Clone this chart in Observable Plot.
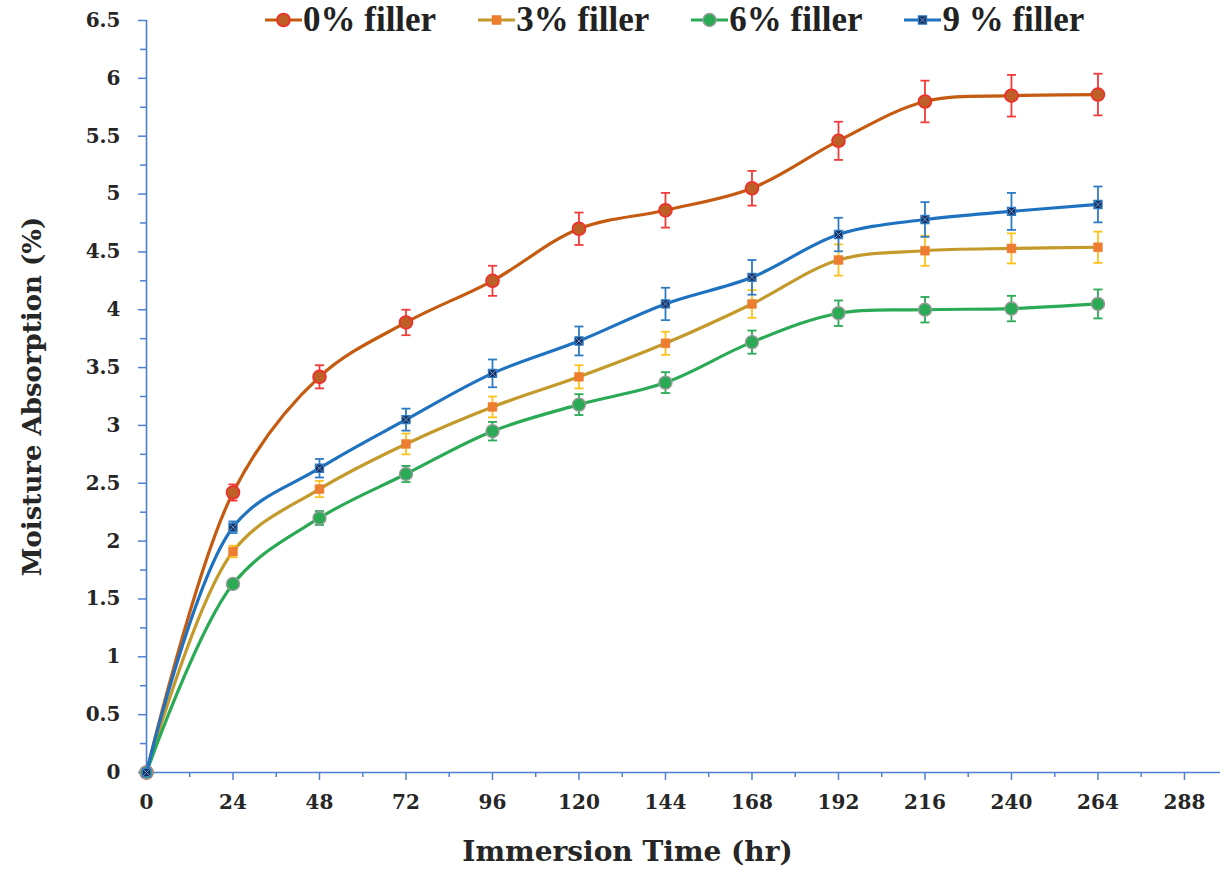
<!DOCTYPE html>
<html>
<head>
<meta charset="utf-8">
<script src="https://cdn.jsdelivr.net/npm/d3@7"></script>
<script src="https://cdn.jsdelivr.net/npm/@observablehq/plot@0.6"></script>
<style>
  html, body { margin: 0; padding: 0; background: #fff; }
  #wrap { position: relative; width: 1223px; height: 871px; }
  #legend { position: absolute; top: 0; left: 265px; display: flex; align-items: center; height: 40px; white-space: nowrap; }
  .item { display: inline-flex; align-items: center; margin-right: 42px; }
  .item span { font-family: "Liberation Serif", serif; font-weight: bold; font-size: 35px; color: #222; line-height: 40px; margin-left: 1px; }
</style>
</head>
<body>
<div id="wrap"><div id="legend"></div></div>
<script>
// ---- data ----
const hours = [0, 24, 48, 72, 96, 120, 144, 168, 192, 216, 240, 264];
const seriesNames = ["0% filler", "3% filler", "6% filler", "9 % filler"];
const filler0 = [0, 2.42, 3.42, 3.89, 4.25, 4.70, 4.86, 5.05, 5.46, 5.80, 5.85, 5.86];
const err0    = [0, 0.07, 0.10, 0.11, 0.13, 0.14, 0.15, 0.15, 0.165, 0.18, 0.18, 0.18];
const filler3 = [0, 1.91, 2.45, 2.84, 3.16, 3.42, 3.71, 4.05, 4.43, 4.51, 4.53, 4.54];
const err3    = [0, 0.05, 0.07, 0.09, 0.09, 0.10, 0.10, 0.12, 0.135, 0.13, 0.13, 0.135];
const filler6 = [0, 1.63, 2.20, 2.58, 2.95, 3.18, 3.37, 3.72, 3.97, 4.00, 4.01, 4.05];
const err6    = [0, 0.03, 0.06, 0.07, 0.08, 0.09, 0.09, 0.10, 0.11, 0.11, 0.11, 0.125];
const filler9 = [0, 2.12, 2.63, 3.05, 3.45, 3.73, 4.05, 4.28, 4.65, 4.78, 4.85, 4.91];
const err9    = [0, 0.05, 0.08, 0.095, 0.12, 0.125, 0.14, 0.15, 0.145, 0.15, 0.16, 0.155];
const xMajorTicks = [0, 24, 48, 72, 96, 120, 144, 168, 192, 216, 240, 264, 288];
const xMinorTicks = [12, 36, 60, 84, 108, 132, 156, 180, 204, 228, 252, 276];
const yMajorTicks = [0, 0.5, 1, 1.5, 2, 2.5, 3, 3.5, 4, 4.5, 5, 5.5, 6, 6.5];
const yMinorTicks = [0.25, 0.75, 1.25, 1.75, 2.25, 2.75, 3.25, 3.75, 4.25, 4.75, 5.25, 5.75, 6.25];

// ---- styles ----
const axisColor = "#4F7FD3";
const styles = [
  {line: "#C55A11", err: "#F23A3A", symbol: "circle", r: 6.5, fill: "#BF5F28", stroke: "#F52A2A", sw: 1.6},
  {line: "#C49A2C", err: "#FFC21A", symbol: "square", r: 5, fill: "#ED7D31", stroke: "#ED7D31", sw: 0.5},
  {line: "#2BAA55", err: "#2BAA55", symbol: "circle", r: 6.5, fill: "#2BAA55", stroke: "#9A9A9A", sw: 1.4},
  {line: "#1F72C0", err: "#2E7BC4", symbol: "square", r: 4.6, fill: "#1B2F5A", stroke: "#2E7BC4", sw: 1.2}
];
const values = [filler0, filler3, filler6, filler9];
const errors = [err0, err3, err6, err9];

const rows = [];
values.forEach((vals, s) => vals.forEach((v, i) => rows.push({
  s, t: hours[i], v, lo: v - errors[s][i], hi: v + errors[s][i]
})));

const capSymbol = {draw(ctx, size) { const w = Math.sqrt(size / Math.PI); ctx.moveTo(-w, 0); ctx.lineTo(w, 0); }};

const seriesMarks = [];
styles.forEach((st, s) => {
  const d = rows.filter(r => r.s === s);
  const e = d.filter(r => r.t > 0);
  seriesMarks.push(
    Plot.line(d, {x: "t", y: "v", curve: "catmull-rom", stroke: st.line, strokeWidth: 3.2}),
    Plot.ruleX(e, {x: "t", y1: "lo", y2: "hi", stroke: st.err, strokeWidth: 1.8}),
    Plot.dot(e, {x: "t", y: "lo", symbol: capSymbol, r: 4.5, stroke: st.err, strokeWidth: 1.8}),
    Plot.dot(e, {x: "t", y: "hi", symbol: capSymbol, r: 4.5, stroke: st.err, strokeWidth: 1.8}),
    Plot.dot(d, {x: "t", y: "v", symbol: st.symbol, r: st.r, fill: st.fill, stroke: st.stroke, strokeWidth: st.sw})
  );
  if (s === 3) seriesMarks.push(Plot.dot(d, {x: "t", y: "v", symbol: "times", r: 3.2, stroke: "#5A9BE0", strokeWidth: 1}));
});

const chart = Plot.plot({
  width: 1223, height: 871,
  marginLeft: 146, marginTop: 20, marginBottom: 99, marginRight: 3,
  x: {domain: [0, 298]},
  y: {domain: [0, 6.5]},
  style: {fontFamily: "DejaVu Serif", fontWeight: "bold", fontSize: "20px", color: "#262626", background: "white"},
  marks: [
    Plot.axisX({ticks: xMinorTicks, tickSize: 5, stroke: axisColor, strokeWidth: 1.5, text: null, label: null}),
    Plot.axisX({ticks: xMajorTicks, tickSize: 8, tickPadding: 14, stroke: axisColor, strokeWidth: 1.5, fill: "#262626", fontSize: 20, fontWeight: "bold", tickFormat: d => String(d), label: null}),
    Plot.axisY({ticks: yMinorTicks, tickSize: 6, stroke: axisColor, strokeWidth: 1.5, text: null, label: null}),
    Plot.axisY({ticks: yMajorTicks, tickSize: 8, tickPadding: 18, stroke: axisColor, strokeWidth: 1.5, fill: "#262626", fontSize: 20, fontWeight: "bold", tickFormat: d => String(d), label: null}),
    Plot.ruleY([0], {stroke: axisColor, strokeWidth: 1.6}),
    Plot.ruleX([0], {stroke: axisColor, strokeWidth: 1.6}),
    ...seriesMarks,
    Plot.text(["Moisture Absorption (%)"], {frameAnchor: "left", textAnchor: "middle", lineAnchor: "middle", rotate: -90, dx: -114, fontSize: 26, fontWeight: "bold", fill: "#262626"}),
    Plot.text(["Immersion Time (hr)"], {frameAnchor: "bottom", textAnchor: "middle", lineAnchor: "middle", dx: -56, dy: 80, fontSize: 28, fontWeight: "bold", fill: "#262626"})
  ]
});
document.getElementById("wrap").prepend(chart);

// ---- legend ----
const legend = document.getElementById("legend");
styles.forEach((st, s) => {
  const item = document.createElement("div");
  item.className = "item";
  const sym = d3.create("svg").attr("width", 37).attr("height", 20);
  sym.append("line").attr("x1", 0).attr("x2", 37).attr("y1", 10).attr("y2", 10).attr("stroke", st.line).attr("stroke-width", 3.2);
  if (st.symbol === "circle") {
    sym.append("circle").attr("cx", 18.5).attr("cy", 10).attr("r", st.r).attr("fill", st.fill).attr("stroke", st.stroke).attr("stroke-width", st.sw);
  } else {
    const h = st.r * 0.9;
    sym.append("rect").attr("x", 18.5 - h).attr("y", 10 - h).attr("width", 2 * h).attr("height", 2 * h).attr("fill", st.fill).attr("stroke", st.stroke).attr("stroke-width", st.sw);
    if (s === 3) sym.append("path").attr("d", "M16,7.5L21,12.5M21,7.5L16,12.5").attr("stroke", "#5A9BE0").attr("stroke-width", 1);
  }
  item.appendChild(sym.node());
  const label = document.createElement("span");
  label.textContent = seriesNames[s];
  item.appendChild(label);
  legend.appendChild(item);
});
</script>
</body>
</html>
